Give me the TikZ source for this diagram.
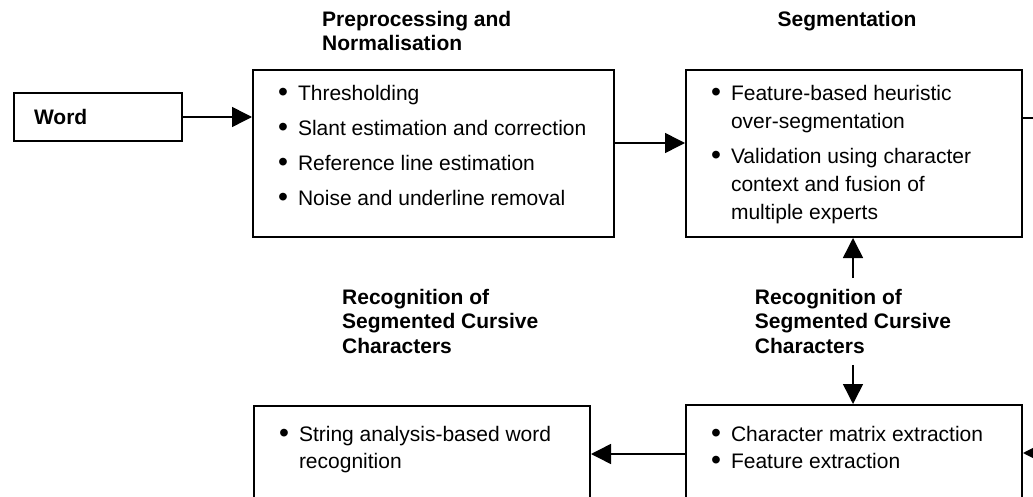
\documentclass[tikz,border=0pt]{standalone}
\usepackage{fontspec}
\setmainfont{Liberation Sans}
\usetikzlibrary{arrows.meta}
\newcommand\bitem[1]{\par\hangindent=45pt\hangafter=0\noindent\llap{\makebox[20pt][l]{\raisebox{-1.3pt}{\scalebox{1.35}{•}}}}\strut#1\strut\par}
% #1 width, #2 height, #3 baselineskip, #4 parskip, #5 top gap
\newenvironment{blist}[5]{\begin{minipage}[b][#2][t]{#1}\fontsize{21}{#3}\selectfont\setlength\parskip{#4}\vspace*{#5}}{\end{minipage}}
\tikzset{
  box/.style={draw, line width=2pt, inner sep=0pt, anchor=north west},
  lbl/.style={font=\fontsize{21}{24.5}\selectfont\bfseries, align=left, inner xsep=0pt, inner ysep=11pt},
  arr/.style={line width=1.5pt, -{Triangle[length=20pt,width=20pt]}},
}
\begin{document}
\begin{tikzpicture}[x=1pt,y=-1pt]
\useasboundingbox (0,0) rectangle (1033,497);
\node[box, anchor=west, minimum height=48pt, text width=128pt, inner xsep=20pt, font=\fontsize{21}{24.5}\selectfont\bfseries] (word) at (13,117) {Word};
\node[box] (pre) at (252,69) {\begin{blist}{361pt}{167pt}{28pt}{7pt}{10.5pt}
\bitem{Thresholding}
\bitem{Slant estimation and correction}
\bitem{Reference line estimation}
\bitem{Noise and underline removal}
\end{blist}};
\node[box] (seg) at (685,69) {\begin{blist}{336pt}{167pt}{28pt}{7pt}{10.5pt}
\bitem{Feature-based heuristic\newline over-segmentation}
\bitem{Validation using character\newline context and fusion of\newline multiple experts}
\end{blist}};
\node[box] (br) at (685,404) {\begin{blist}{336pt}{140pt}{26.5pt}{0pt}{18pt}
\bitem{Character matrix extraction}
\bitem{Feature extraction}
\end{blist}};
\node[box] (bl) at (253,405) {\begin{blist}{336pt}{140pt}{26.5pt}{0pt}{17pt}
\bitem{String analysis-based word\newline recognition}
\end{blist}};
\node[lbl, anchor=north west, inner sep=0pt] (tpre) at (322,11) {Preprocessing and\\Normalisation};
\node[lbl, anchor=north, inner sep=0pt] (tseg) at (847,11) {Segmentation};
\node[lbl, anchor=north] (rlab) at (853,278) {Recognition of\\Segmented Cursive\\Characters};
\node[lbl, anchor=north west] (llab) at (342,278) {Recognition of\\Segmented Cursive\\Characters};
\draw[arr] (word.east) -- (word.east -| pre.west);
\draw[arr] ([yshift=10.5pt]pre.east) -- ([yshift=10.5pt]seg.west);
\draw[arr] ([yshift=35.5pt]seg.east) -- ++(24,0) |- ([yshift=22pt]br.east);
\draw[arr] (rlab.north) -- (rlab.north |- seg.south);
\draw[arr] (rlab.south) -- (rlab.south |- br.north);
\draw[arr] ([yshift=21pt]br.west) -- ([yshift=21pt]br.west -| bl.east);
\end{tikzpicture}
\end{document}
